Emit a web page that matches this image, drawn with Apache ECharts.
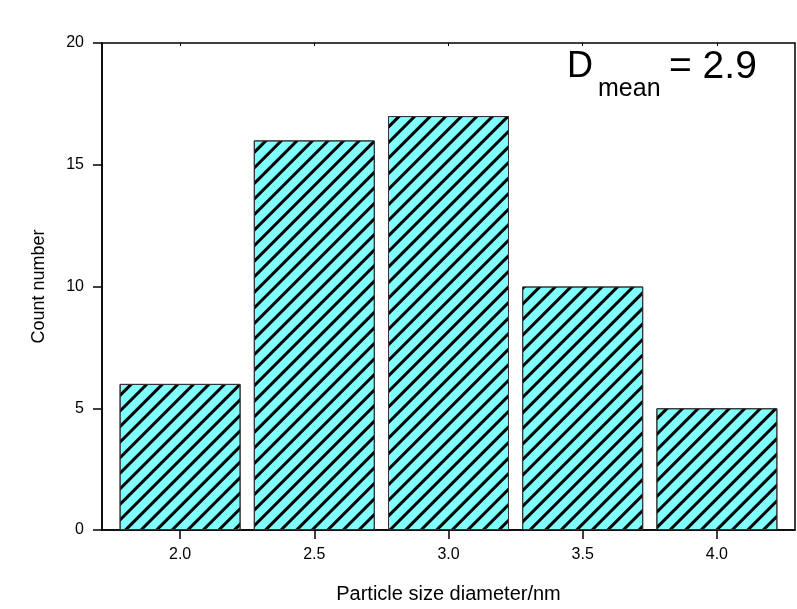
<!DOCTYPE html>
<html>
<head>
<meta charset="utf-8">
<script src="https://cdn.jsdelivr.net/npm/echarts@6/dist/echarts.min.js"></script>
<style>
  html, body { margin: 0; padding: 0; background: #fff; }
  #chart { width: 797px; height: 609px; }
</style>
</head>
<body>
<div id="chart"></div>
<script>
// particle size bins (nm) and counts
var sizes = [2.0, 2.5, 3.0, 3.5, 4.0];
var counts = [6, 16, 17, 10, 5];
var xTicks = [2.0, 2.5, 3.0, 3.5, 4.0];
var yTicks = [0, 5, 10, 15, 20];

var chart = echarts.init(document.getElementById("chart"));
var font = "'Liberation Sans', Arial, sans-serif";

var barData = [];
for (var i = 0; i < sizes.length; i++) {
  barData.push([sizes[i], counts[i]]);
}

var option = {
  animation: false,
  grid: {
    left: 102, top: 43, right: 2, bottom: 79,
    show: true, borderColor: "#000", borderWidth: 1.5
  },
  xAxis: [
    {
      type: "value",
      min: 1.709,
      max: 4.291,
      name: "Particle size diameter/nm",
      nameLocation: "middle",
      nameGap: 54,
      nameTextStyle: { fontFamily: font, fontSize: 20, color: "#000" },
      axisLine: { show: true, lineStyle: { color: "#000", width: 1.5 } },
      axisTick: { show: true, length: 9, customValues: xTicks, lineStyle: { color: "#000", width: 1.5 } },
      axisLabel: {
        customValues: xTicks, margin: 17, color: "#000", fontFamily: font, fontSize: 16,
        formatter: function (v) { return v.toFixed(1); }
      },
      splitLine: { show: false }
    },
    {
      type: "value",
      position: "top",
      min: 1.709,
      max: 4.291,
      axisLine: { show: false },
      axisTick: { show: true, inside: true, length: 3, customValues: xTicks, lineStyle: { color: "#000" } },
      axisLabel: { show: false },
      splitLine: { show: false }
    }
  ],
  yAxis: {
    type: "value",
    min: 0,
    max: 20,
    interval: 5,
    name: "Count number",
    nameLocation: "middle",
    nameGap: 54,
    nameTextStyle: { fontFamily: font, fontSize: 18, color: "#000" },
    axisLine: { show: true, lineStyle: { color: "#000", width: 1.5 } },
    axisTick: { show: true, length: 9, customValues: yTicks, lineStyle: { color: "#000", width: 1.5 } },
    axisLabel: { margin: 18, color: "#000", fontFamily: font, fontSize: 16, customValues: yTicks },
    splitLine: { show: false }
  },
  series: [
    {
      type: "bar",
      data: barData,
      barWidth: 121,
      itemStyle: {
        color: "#80FFFF",
        borderColor: "#333",
        borderWidth: 1,
        decal: {
          symbol: "rect",
          color: "#000",
          dashArrayX: [1, 0],
          dashArrayY: [3, 8],
          rotation: -Math.PI / 4
        }
      }
    }
  ],
  graphic: [
    {
      type: "text", x: 567, y: 67,
      style: { text: "D", fontFamily: font, fontSize: 36, fill: "#000", verticalAlign: "middle" }
    },
    {
      type: "text", x: 598, y: 89,
      style: { text: "mean", fontFamily: font, fontSize: 25, fill: "#000", verticalAlign: "middle" }
    },
    {
      type: "text", x: 669, y: 67,
      style: { text: "= 2.9", fontFamily: font, fontSize: 39, fill: "#000", verticalAlign: "middle" }
    }
  ]
};

chart.setOption(option);
</script>
</body>
</html>
